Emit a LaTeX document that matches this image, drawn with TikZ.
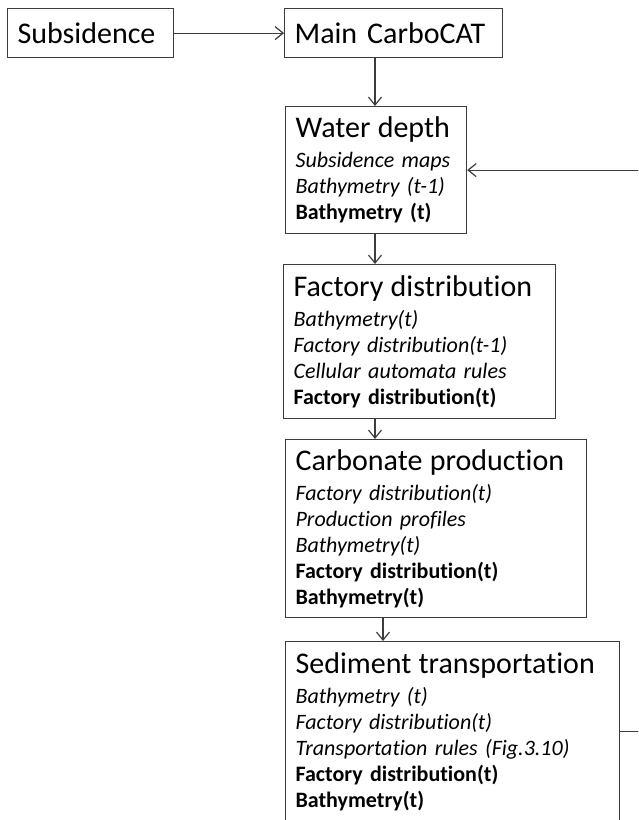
\documentclass[tikz,border=0pt]{standalone}
\usepackage{fontspec}
\setmainfont{Carlito}[Ligatures=NoCommon, WordSpace=0.7]
\usetikzlibrary{arrows.meta}
\definecolor{linegray}{RGB}{60,60,60}
\newcommand{\stagetitle}[1]{{\fontsize{30}{30}\selectfont #1}\\[4pt]}
\tikzset{
  stagebox/.style={draw=linegray, line width=1.2pt, anchor=north west, align=left,
    inner xsep=10pt, inner ysep=8pt, font=\fontsize{22}{26}\selectfont, text=black},
  headbox/.style={stagebox, font=\fontsize{30}{36}\selectfont},
  flowarrow/.style={draw=linegray, line width=1.2pt, -{Straight Barb[length=8pt,width=13pt]}}
}

\begin{document}
\begin{tikzpicture}[x=1pt,y=-1pt]
\useasboundingbox (0,0) rectangle (638,820);
\clip (0,0) rectangle (638,820);
\node[headbox, text width=146pt, minimum height=49pt](sub) at (7,8){Subsidence};
\node[headbox, text width=198pt, minimum height=49pt](main) at (284,8){Main CarboCAT};
\node[stagebox, text width=161pt, minimum height=127pt](water) at (285,106){\stagetitle{Water depth}\textit{Subsidence maps}\\\textit{Bathymetry (t-1)}\\\textbf{Bathymetry (t)}};
\node[stagebox, text width=252pt, minimum height=154pt](fact) at (283,264){\stagetitle{Factory distribution}\textit{Bathymetry(t)}\\\textit{Factory distribution(t-1)}\\\textit{Cellular automata rules}\\\textbf{Factory distribution(t)}};
\node[stagebox, text width=281pt, minimum height=178pt](carb) at (285,439){\stagetitle{Carbonate production}\textit{Factory distribution(t)}\\\textit{Production profiles}\\\textit{Bathymetry(t)}\\\textbf{Factory distribution(t)}\\\textbf{Bathymetry(t)}};
\node[stagebox, text width=314pt, minimum height=180pt](sed) at (285,641){\stagetitle{Sediment transportation}\textit{Bathymetry (t)}\\\textit{Factory distribution(t)}\\\textit{Transportation rules (Fig.3.10)}\\\textbf{Factory distribution(t)}\\\textbf{Bathymetry(t)}};
\coordinate (axis) at (375,0);
\coordinate (axisb) at (383,0);
\draw[flowarrow] (sub.east) -- (main.west);
\draw[flowarrow] (axis |- main.south) -- (axis |- water.north);
\draw[flowarrow] (axis |- water.south) -- (axis |- fact.north);
\draw[flowarrow] (axis |- fact.south) -- (axis |- carb.north);
\draw[flowarrow] (axisb |- carb.south) -- (axisb |- sed.north);
\draw[flowarrow] (sed.east) -- ++(40,0) |- (water.east);
\end{tikzpicture}
\end{document}
